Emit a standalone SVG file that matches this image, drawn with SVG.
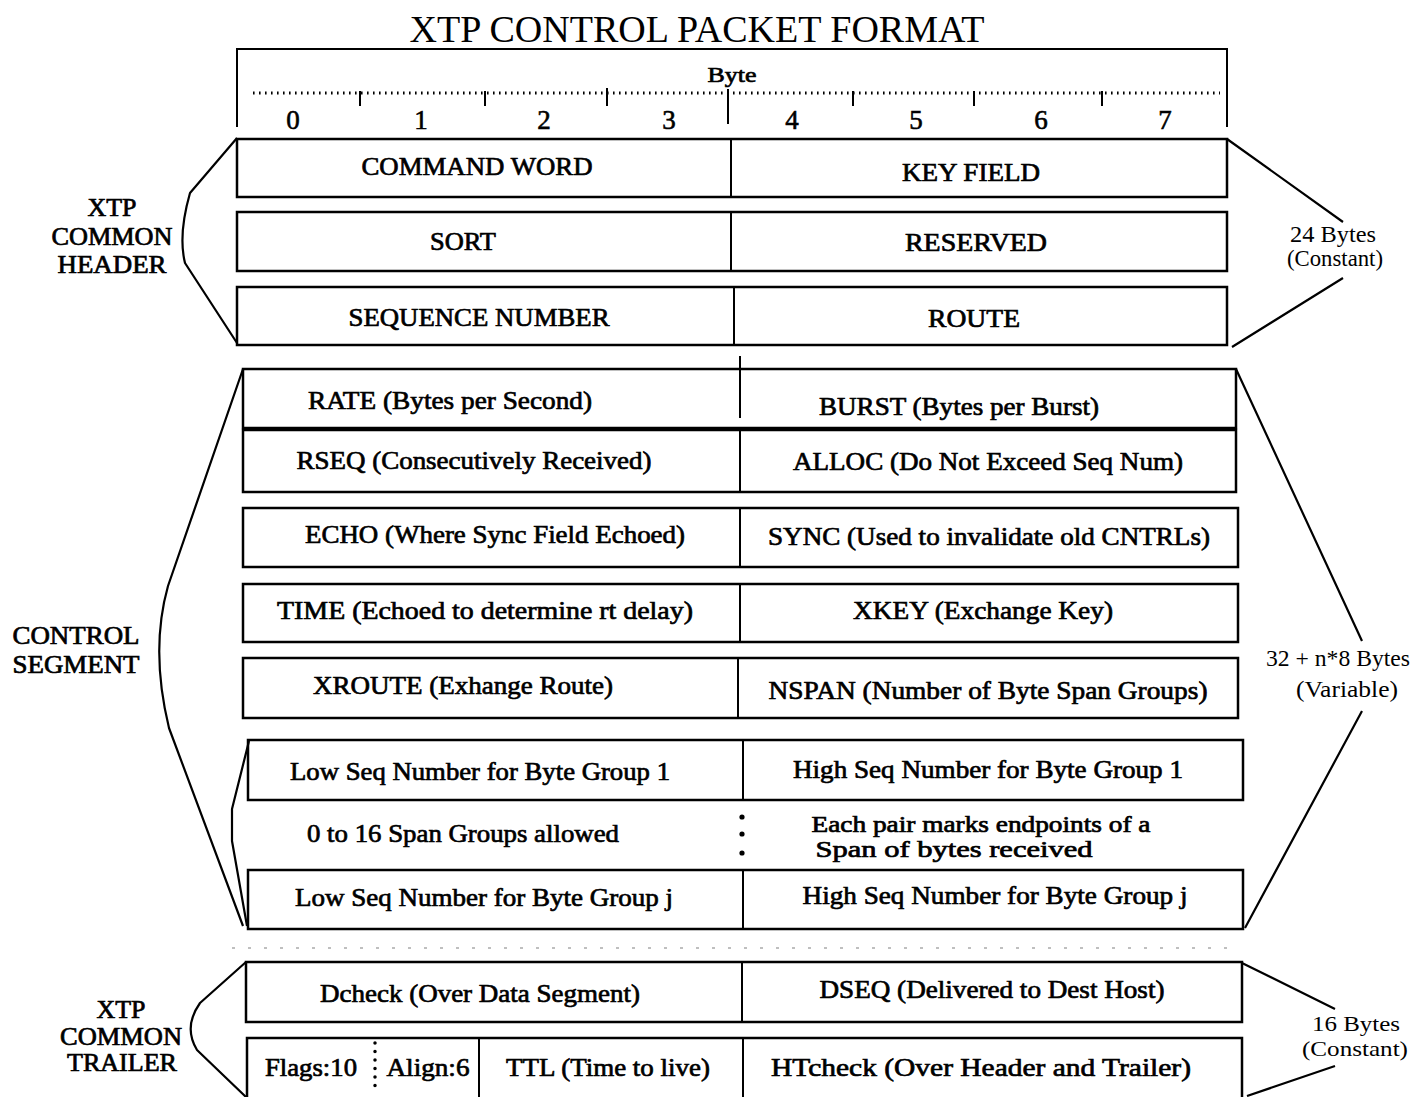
<svg xmlns="http://www.w3.org/2000/svg" width="1414" height="1097" viewBox="0 0 1414 1097">
  <style>
    .box { fill: #fff; stroke: #000; stroke-width: 2.5; }
    .div { stroke: #000; stroke-width: 2; fill: none; }
    .br { stroke: #000; stroke-width: 2.2; fill: none; stroke-linejoin: round; }
    .lbl { font-family: "Liberation Serif", "Times New Roman", serif; font-size: 26px; text-anchor: middle; fill: #000; stroke: #000; stroke-width: 0.7; }
    .side { font-family: "Liberation Serif", "Times New Roman", serif; font-size: 25px; text-anchor: middle; fill: #000; stroke: #000; stroke-width: 0.7; }
    .size { font-family: "Liberation Serif", "Times New Roman", serif; font-size: 23px; text-anchor: middle; fill: #000; }
    .title { font-family: "Liberation Serif", "Times New Roman", serif; font-size: 37px; text-anchor: middle; fill: #000; }
    .digit { font-family: "Liberation Serif", "Times New Roman", serif; font-size: 27px; text-anchor: middle; fill: #000; stroke: #000; stroke-width: 0.6; }
  </style>
  <rect width="1414" height="1097" fill="#fff"/>

  <!-- title -->
  <text class="title" x="697" y="42" textLength="575" lengthAdjust="spacingAndGlyphs">XTP CONTROL PACKET FORMAT</text>

  <!-- byte ruler -->
  <g id="ruler">
    <path class="div" d="M237,127 V49 H1227 V127"/>
    <text class="lbl" x="732" y="82" style="font-size:22px" textLength="49" lengthAdjust="spacingAndGlyphs">Byte</text>
    <line x1="253" y1="93" x2="1220" y2="93" stroke="#000" stroke-width="3" stroke-dasharray="1.6 4.4"/>
    <path class="div" d="M360,91 V106 M485,91 V106 M607,88 V106 M728,89 V124 M853,91 V106 M974,91 V106 M1102,91 V106"/>
    <text class="digit" x="293" y="129">0</text>
    <text class="digit" x="421" y="129">1</text>
    <text class="digit" x="544" y="129">2</text>
    <text class="digit" x="669" y="129">3</text>
    <text class="digit" x="792" y="129">4</text>
    <text class="digit" x="916" y="129">5</text>
    <text class="digit" x="1041" y="129">6</text>
    <text class="digit" x="1165" y="129">7</text>
  </g>

  <!-- common header -->
  <g id="hdr-row1">
    <rect class="box" x="237" y="139" width="990" height="58"/>
    <line class="div" x1="731" y1="139" x2="731" y2="197"/>
    <text class="lbl" x="477" y="175" textLength="231" lengthAdjust="spacingAndGlyphs">COMMAND WORD</text>
    <text class="lbl" x="971" y="181" textLength="138" lengthAdjust="spacingAndGlyphs">KEY FIELD</text>
  </g>
  <g id="hdr-row2">
    <rect class="box" x="237" y="212" width="990" height="59"/>
    <line class="div" x1="731" y1="212" x2="731" y2="271"/>
    <text class="lbl" x="463" y="250" textLength="66" lengthAdjust="spacingAndGlyphs">SORT</text>
    <text class="lbl" x="976" y="251" textLength="142" lengthAdjust="spacingAndGlyphs">RESERVED</text>
  </g>
  <g id="hdr-row3">
    <rect class="box" x="237" y="287" width="990" height="58"/>
    <line class="div" x1="734" y1="287" x2="734" y2="345"/>
    <text class="lbl" x="479" y="326" textLength="261" lengthAdjust="spacingAndGlyphs">SEQUENCE NUMBER</text>
    <text class="lbl" x="974" y="327" textLength="92" lengthAdjust="spacingAndGlyphs">ROUTE</text>
  </g>

  <!-- control segment -->
  <g id="ctl-rate">
    <rect class="box" x="243" y="369" width="993" height="59"/>
    <line class="div" x1="740" y1="356" x2="740" y2="418"/>
    <text class="lbl" x="450" y="409" textLength="284" lengthAdjust="spacingAndGlyphs">RATE (Bytes per Second)</text>
    <text class="lbl" x="959" y="415" textLength="280" lengthAdjust="spacingAndGlyphs">BURST (Bytes per Burst)</text>
  </g>
  <g id="ctl-rseq">
    <rect class="box" x="243" y="430" width="993" height="62"/>
    <line class="div" x1="740" y1="430" x2="740" y2="492"/>
    <text class="lbl" x="474" y="469" textLength="355" lengthAdjust="spacingAndGlyphs">RSEQ (Consecutively Received)</text>
    <text class="lbl" x="988" y="470" textLength="390" lengthAdjust="spacingAndGlyphs">ALLOC (Do Not Exceed Seq Num)</text>
  </g>
  <g id="ctl-echo">
    <rect class="box" x="243" y="508" width="995" height="59"/>
    <line class="div" x1="740" y1="508" x2="740" y2="567"/>
    <text class="lbl" x="495" y="543" textLength="380" lengthAdjust="spacingAndGlyphs">ECHO (Where Sync Field Echoed)</text>
    <text class="lbl" x="989" y="545" textLength="442" lengthAdjust="spacingAndGlyphs">SYNC (Used to invalidate old CNTRLs)</text>
  </g>
  <g id="ctl-time">
    <rect class="box" x="243" y="584" width="995" height="58"/>
    <line class="div" x1="740" y1="584" x2="740" y2="642"/>
    <text class="lbl" x="485" y="619" textLength="416" lengthAdjust="spacingAndGlyphs">TIME (Echoed to determine rt delay)</text>
    <text class="lbl" x="983" y="619" textLength="260" lengthAdjust="spacingAndGlyphs">XKEY (Exchange Key)</text>
  </g>
  <g id="ctl-xroute">
    <rect class="box" x="243" y="658" width="995" height="60"/>
    <line class="div" x1="738" y1="658" x2="738" y2="718"/>
    <text class="lbl" x="463" y="694" textLength="300" lengthAdjust="spacingAndGlyphs">XROUTE (Exhange Route)</text>
    <text class="lbl" x="988" y="699" textLength="439" lengthAdjust="spacingAndGlyphs">NSPAN (Number of Byte Span Groups)</text>
  </g>
  <g id="span-first">
    <rect class="box" x="248" y="740" width="995" height="60"/>
    <line class="div" x1="743" y1="740" x2="743" y2="800"/>
    <text class="lbl" x="480" y="780" textLength="380" lengthAdjust="spacingAndGlyphs">Low Seq Number for Byte Group 1</text>
    <text class="lbl" x="988" y="778" textLength="390" lengthAdjust="spacingAndGlyphs">High Seq Number for Byte Group 1</text>
  </g>
  <g id="span-gap">
    <text class="lbl" x="463" y="842" textLength="312" lengthAdjust="spacingAndGlyphs">0 to 16 Span Groups allowed</text>
    <circle cx="742" cy="817" r="2.6"/>
    <circle cx="742" cy="834" r="2.6"/>
    <circle cx="742" cy="853" r="2.6"/>
    <text class="lbl" x="981" y="832" style="font-size:23px" textLength="339" lengthAdjust="spacingAndGlyphs">Each pair marks endpoints of a</text>
    <text class="lbl" x="954" y="857" style="font-size:23px" textLength="277" lengthAdjust="spacingAndGlyphs">Span of bytes received</text>
  </g>
  <g id="span-last">
    <rect class="box" x="248" y="870" width="995" height="59"/>
    <line class="div" x1="743" y1="870" x2="743" y2="929"/>
    <text class="lbl" x="484" y="906" textLength="378" lengthAdjust="spacingAndGlyphs">Low Seq Number for Byte Group j</text>
    <text class="lbl" x="995" y="904" textLength="385" lengthAdjust="spacingAndGlyphs">High Seq Number for Byte Group j</text>
  </g>

  <!-- faint rule above trailer -->
  <line x1="232" y1="948" x2="1232" y2="948" stroke="#aaa" stroke-width="1.5" stroke-dasharray="3 13"/>

  <!-- common trailer -->
  <g id="trl-row1">
    <rect class="box" x="246" y="962" width="996" height="60"/>
    <line class="div" x1="742" y1="962" x2="742" y2="1022"/>
    <text class="lbl" x="480" y="1002" textLength="320" lengthAdjust="spacingAndGlyphs">Dcheck (Over Data Segment)</text>
    <text class="lbl" x="992" y="998" textLength="345" lengthAdjust="spacingAndGlyphs">DSEQ (Delivered to Dest Host)</text>
  </g>
  <g id="trl-row2">
    <rect class="box" x="247" y="1038" width="995" height="61"/>
    <line class="div" x1="479" y1="1038" x2="479" y2="1097"/>
    <line class="div" x1="743" y1="1038" x2="743" y2="1097"/>
    <line x1="375" y1="1043" x2="375" y2="1093" stroke="#000" stroke-width="3.5" stroke-linecap="round" stroke-dasharray="0 8.5"/>
    <text class="lbl" x="311" y="1076" textLength="92" lengthAdjust="spacingAndGlyphs">Flags:10</text>
    <text class="lbl" x="428" y="1076" textLength="83" lengthAdjust="spacingAndGlyphs">Align:6</text>
    <text class="lbl" x="608" y="1076" textLength="204" lengthAdjust="spacingAndGlyphs">TTL (Time to live)</text>
    <text class="lbl" x="981" y="1076" textLength="420" lengthAdjust="spacingAndGlyphs">HTcheck (Over Header and Trailer)</text>
  </g>

  <!-- section braces -->
  <g id="brackets">
    <path class="br" d="M237,138 L190,193 Q178,235 185,263 L237,343"/>
    <path class="br" d="M1227,139 L1343,222 M1343,278 L1232,347"/>
    <path class="br" d="M243,369 L168,586 Q150,650 169,728 L243,926"/>
    <path class="br" d="M249,741 L232,809 L232,841 L247,926"/>
    <path class="br" d="M1236,369 L1362,641 M1362,711 L1245,928"/>
    <path class="br" d="M246,962 L200,1003 Q183,1027 197,1050 L246,1097"/>
    <path class="br" d="M1242,963 L1335,1009 M1335,1066 L1247,1096"/>
  </g>

  <!-- section labels -->
  <g id="labels">
    <text class="side" x="112" y="216" textLength="49" lengthAdjust="spacingAndGlyphs">XTP</text>
    <text class="side" x="112" y="245" textLength="121" lengthAdjust="spacingAndGlyphs">COMMON</text>
    <text class="side" x="112" y="273" textLength="109" lengthAdjust="spacingAndGlyphs">HEADER</text>
    <text class="side" x="76" y="644" textLength="127" lengthAdjust="spacingAndGlyphs">CONTROL</text>
    <text class="side" x="76" y="673" textLength="127" lengthAdjust="spacingAndGlyphs">SEGMENT</text>
    <text class="side" x="121" y="1018" textLength="49" lengthAdjust="spacingAndGlyphs">XTP</text>
    <text class="side" x="121" y="1045" textLength="122" lengthAdjust="spacingAndGlyphs">COMMON</text>
    <text class="side" x="122" y="1071" textLength="110" lengthAdjust="spacingAndGlyphs">TRAILER</text>
    <text class="size" x="1333" y="242" textLength="86" lengthAdjust="spacingAndGlyphs">24 Bytes</text>
    <text class="size" x="1335" y="266" textLength="96" lengthAdjust="spacingAndGlyphs">(Constant)</text>
    <text class="size" x="1266" y="666" style="text-anchor:start;font-size:24px" textLength="144" lengthAdjust="spacingAndGlyphs">32 + n*8 Bytes</text>
    <text class="size" x="1347" y="697" textLength="102" lengthAdjust="spacingAndGlyphs">(Variable)</text>
    <text class="size" x="1356" y="1031" style="font-size:22px" textLength="88" lengthAdjust="spacingAndGlyphs">16 Bytes</text>
    <text class="size" x="1355" y="1056" style="font-size:22px" textLength="106" lengthAdjust="spacingAndGlyphs">(Constant)</text>
  </g>
</svg>
